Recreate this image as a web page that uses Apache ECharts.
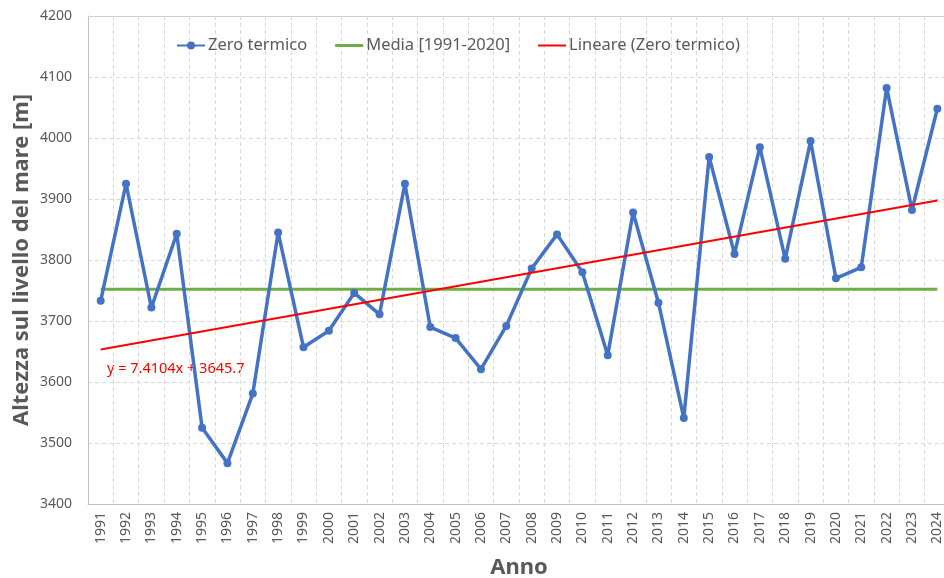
<!DOCTYPE html>
<html>
<head>
<meta charset="utf-8">
<script src="https://cdn.jsdelivr.net/npm/echarts@6/dist/echarts.min.js"></script>
<style>html,body{margin:0;padding:0;background:#fff}#c{width:944px;height:578px}</style>
</head>
<body>
<div id="c"></div>
<script>
const years = ['1991','1992','1993','1994','1995','1996','1997','1998','1999','2000','2001','2002','2003','2004','2005','2006','2007','2008','2009','2010','2011','2012','2013','2014','2015','2016','2017','2018','2019','2020','2021','2022','2023','2024'];
const zeroTermico = [3733,3925,3722,3843,3525,3467,3581,3845,3657,3684,3746,3711,3925,3690,3672,3621,3692,3786,3842,3780,3644,3878,3730,3541,3969,3810,3985,3802,3995,3770,3788,4082,3882,4048];
const mediaEnds = [['1991',3752],['2024',3752]];
const trendEnds = [['1991',3653.1],['2024',3897.7]];
const yTicks = {min:3400, max:4200, interval:100};
const trendLabel = 'y = 7.4104x + 3645.7';

const font = 'Noto Sans';
const grey = '#595959';
const chart = echarts.init(document.getElementById('c'));
chart.setOption({
  animation:false,
  textStyle:{fontFamily:font},
  grid:{left:88, top:16, width:862, bottom:74, containLabel:false, outerBoundsMode:'none'},
  legend:{
    top:32, left:171, itemGap:28, itemWidth:28, itemHeight:10, symbolKeepAspect:true,
    textStyle:{color:grey, fontSize:16.5, fontFamily:font, padding:[0,0,0,-2]},
    data:[
      {name:'Zero termico'},
      {name:'Media [1991-2020]', icon:'path://M0,0L28,0L28,3L0,3Z'},
      {name:'Lineare (Zero termico)', icon:'path://M0,0L28,0L28,2L0,2Z'}
    ]
  },
  xAxis:[{
    type:'category', data:years, boundaryGap:true,
    name:'Anno', nameLocation:'middle', nameGap:53, nameMoveOverlap:false,
    nameTextStyle:{color:grey, fontSize:22, fontWeight:'bold', fontFamily:font},
    axisLine:{lineStyle:{color:'#bfbfbf', width:1}},
    axisTick:{show:false},
    axisLabel:{rotate:90, color:grey, fontSize:14, margin:8, interval:0},
    splitLine:{show:true, interval:0, lineStyle:{color:'#d9d9d9', type:[4,3]}}
  },{
    type:'category', data:years, position:'top',
    axisLine:{show:true, lineStyle:{color:'#d0d0d0', width:1}},
    axisTick:{show:false}, axisLabel:{show:false}, splitLine:{show:false}
  }],
  yAxis:{
    type:'value', min:yTicks.min, max:yTicks.max, interval:yTicks.interval,
    name:'Altezza sul livello del mare [m]', nameLocation:'middle', nameGap:55, nameMoveOverlap:false,
    nameTextStyle:{color:grey, fontSize:22, fontWeight:'bold', fontFamily:font},
    axisLine:{show:true, lineStyle:{color:'#bfbfbf', width:1}},
    axisTick:{show:false},
    axisLabel:{color:grey, fontSize:14, margin:16, formatter:(v)=>String(v)},
    splitLine:{show:true, lineStyle:{color:'#d9d9d9', type:[4,3]}}
  },
  series:[
    {name:'Zero termico', type:'line', data:zeroTermico, symbol:'circle', symbolSize:8,
     itemStyle:{color:'#4472C4'}, lineStyle:{color:'#4472C4', width:3.5}, z:3},
    {name:'Media [1991-2020]', type:'line', data:mediaEnds, symbol:'none',
     itemStyle:{color:'#70AD47'}, lineStyle:{color:'#70AD47', width:3}, z:2},
    {name:'Lineare (Zero termico)', type:'line', data:trendEnds, symbol:'none',
     itemStyle:{color:'#FF0000'}, lineStyle:{color:'#FF0000', width:2}, z:4}
  ],
  graphic:[{type:'text', left:107, top:361, style:{text:trendLabel, fill:'#FF0000', fontSize:14.5, fontFamily:font}}]
});
</script>
</body>
</html>
